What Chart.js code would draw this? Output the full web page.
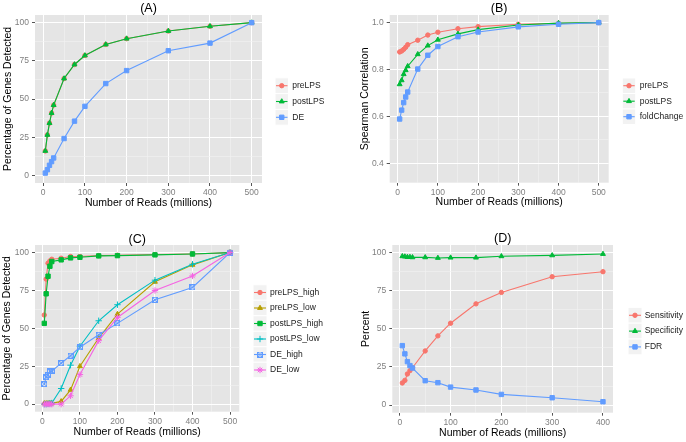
<!DOCTYPE html>
<html><head>
<meta charset="utf-8">
<script src="https://cdn.jsdelivr.net/npm/chart.js@4.4.0/dist/chart.umd.min.js"></script>
<style>
  html, body { margin: 0; padding: 0; background: #fff; }
  #wrap { position: relative; width: 686px; height: 442px; }
  canvas { position: absolute; }
</style>
</head>
<body>
<div id="wrap">
  <canvas id="cA" width="343" height="221" style="left:0;top:0"></canvas>
  <canvas id="cB" width="343" height="221" style="left:343px;top:0"></canvas>
  <canvas id="cC" width="343" height="221" style="left:0;top:221px"></canvas>
  <canvas id="cD" width="343" height="221" style="left:343px;top:221px"></canvas>
</div>
<script>
// x values (millions of reads)
var reads  = [5, 10, 15, 20, 25, 50, 75, 100, 150, 200, 300, 400, 500];
var readsD = [5, 10, 15, 20, 25, 50, 75, 100, 150, 200, 300, 400];

// (A) percentage of genes detected
var aPre  = [16, 26.5, 34.2, 40.8, 46, 63.4, 72.6, 78.5, 85.7, 89.5, 94.5, 97.6, 100];
var aPost = [16, 26.5, 34.2, 40.8, 46, 63.4, 72.6, 78.5, 85.7, 89.5, 94.5, 97.6, 100];
var aDE   = [1.5, 3.7, 6.6, 9, 11.4, 24.1, 35.5, 45.2, 60.1, 68.6, 81.6, 86.6, 100];

// (B) spearman correlation
var bPre  = [0.875, 0.879, 0.886, 0.895, 0.906, 0.925, 0.947, 0.959, 0.974, 0.983, 0.993, 0.997, 1.0];
var bPost = [0.737, 0.754, 0.780, 0.797, 0.814, 0.865, 0.902, 0.927, 0.952, 0.970, 0.990, 0.998, 1.0];
var bFold = [0.589, 0.627, 0.659, 0.683, 0.704, 0.802, 0.861, 0.898, 0.940, 0.960, 0.982, 0.993, 1.0];

// (C) high / low expression
var cPreHigh  = [58.8, 82.5, 93, 94.5, 95.6, 96.3, 97.4, 97.4, 98, 98.2, 98.7, 99.1, 100];
var cPreLow   = [0.5, 0.5, 0.5, 0.5, 0.5, 1.8, 9.4, 25, 43.6, 59.4, 80.7, 91.9, 100];
var cPostHigh = [53.3, 72.8, 84.4, 91, 94.1, 95.2, 96.5, 96.9, 97.8, 98, 98.5, 99.1, 100];
var cPostLow  = [0, 0, 0.2, 0.5, 0.7, 10.3, 25.7, 38.2, 55, 65.6, 81.8, 92.3, 100];
var cDEHigh   = [13.2, 17.8, 19.5, 21.7, 21.7, 27, 32, 37.5, 45.8, 53.3, 68.9, 77, 100];
var cDELow    = [0, 0, 0, 0, 0, 0, 5.5, 19.5, 41.9, 57.2, 75, 84.6, 100];

// (D) sensitivity / specificity / FDR
var dSens = [14.5, 16.2, 20.4, 22.6, 24.5, 35.5, 45.4, 53.7, 66.4, 73.9, 84.2, 87.5];
var dSpec = [97.6, 97.4, 97.1, 97.1, 96.9, 96.9, 96.5, 96.7, 96.7, 97.6, 98.2, 99.1];
var dFDR  = [39, 33.6, 28.5, 25.9, 24.3, 16, 14.7, 11.8, 9.9, 7, 4.8, 2.2];

var pctTicks = [0, 25, 50, 75, 100], pctMinor = [12.5, 37.5, 62.5, 87.5];
var corTicks = [0.4, 0.6, 0.8, 1.0], corMinor = [0.5, 0.7, 0.9];
var x500Ticks = [0, 100, 200, 300, 400, 500], x500Minor = [50, 150, 250, 350, 450];
var x400Ticks = [0, 100, 200, 300, 400], x400Minor = [50, 150, 250, 350];

var red = '#F8766D', green = '#00BA38', blue = '#619CFF';
var olive = '#B79F00', cyan = '#00BFC4', pink = '#F564E3';

Chart.defaults.font.family = '"Liberation Sans", Arial, sans-serif';

function boxCross(col) {
  var c = document.createElement('canvas');
  c.width = 6; c.height = 6;
  var g = c.getContext('2d');
  g.strokeStyle = col; g.lineWidth = 1;
  g.strokeRect(0.5, 0.5, 5, 5);
  g.beginPath();
  g.moveTo(0.5, 0.5); g.lineTo(5.5, 5.5);
  g.moveTo(5.5, 0.5); g.lineTo(0.5, 5.5);
  g.stroke();
  return c;
}

var radii = { circle: 2.2, triangle: 2.8, rect: 3.1, cross: 3.2, star: 3.2 };

function series(label, xs, ys, col, shape, i) {
  var r = typeof shape === 'string' ? radii[shape] : 3;
  return {
    label: label,
    data: xs.map(function (x, k) { return { x: x, y: ys[k] }; }),
    borderColor: col, backgroundColor: col,
    borderWidth: 1.1, pointStyle: shape, pointRadius: r,
    pointBorderWidth: 1, pointHoverRadius: r, order: -i
  };
}

function isIn(list, v) {
  return list.some(function (m) { return Math.abs(m - v) < 1e-6; });
}

function makeChart(id, o) {
  var bgPlugin = {
    id: 'ggBg',
    beforeDraw: function (chart) {
      var a = chart.chartArea, ctx = chart.ctx;
      ctx.save();
      ctx.fillStyle = '#E5E5E5';
      ctx.fillRect(a.left, a.top, a.right - a.left, a.bottom - a.top);
      ctx.restore();
    },
    afterDraw: function (chart) {
      var a = chart.chartArea, ctx = chart.ctx;
      ctx.save();
      // panel title
      ctx.fillStyle = '#000';
      ctx.font = '12.5px "Liberation Sans", Arial, sans-serif';
      ctx.textAlign = 'center'; ctx.textBaseline = 'middle';
      ctx.fillText(o.title, (a.left + a.right) / 2, o.titleY);
      // legend, ggplot style
      var L = o.legend;
      chart.data.datasets.forEach(function (ds, i) {
        var cy = L.y0 + i * L.dy;
        ctx.fillStyle = '#F2F2F2';
        ctx.fillRect(L.x, cy - L.dy / 2, L.w, L.dy);
        ctx.strokeStyle = '#fff'; ctx.lineWidth = 1;
        ctx.strokeRect(L.x, cy - L.dy / 2, L.w, L.dy);
        ctx.strokeStyle = ds.borderColor; ctx.lineWidth = 1.1;
        ctx.beginPath(); ctx.moveTo(L.x + 1, cy); ctx.lineTo(L.x + L.w - 1, cy); ctx.stroke();
        ctx.fillStyle = ds.borderColor; ctx.strokeStyle = ds.borderColor; ctx.lineWidth = 1;
        Chart.helpers.drawPoint(ctx, { pointStyle: ds.pointStyle, radius: ds.pointRadius, rotation: 0, borderWidth: 1 }, L.x + L.w / 2, cy);
        ctx.fillStyle = '#1A1A1A';
        ctx.font = '8.5px "Liberation Sans", Arial, sans-serif';
        ctx.textAlign = 'left'; ctx.textBaseline = 'middle';
        ctx.fillText(ds.label, L.tx, cy);
      });
      ctx.restore();
    }
  };

  function gridOpts(major) {
    return {
      color: function (c) { return isIn(major, c.tick.value) ? '#FFFFFF' : '#F2F2F2'; },
      lineWidth: function (c) { return isIn(major, c.tick.value) ? 1 : 0.6; },
      tickColor: function (c) { return isIn(major, c.tick.value) ? '#555555' : 'rgba(0,0,0,0)'; },
      tickLength: 3, drawTicks: true
    };
  }

  return new Chart(document.getElementById(id), {
    type: 'line',
    data: { datasets: o.datasets },
    plugins: [bgPlugin],
    options: {
      responsive: false, animation: false, devicePixelRatio: 1,
      layout: { padding: { left: 0, top: o.padTop, right: o.padRight, bottom: 0 } },
      plugins: { legend: { display: false }, tooltip: { enabled: false }, title: { display: false } },
      scales: {
        x: {
          type: 'linear', min: o.xMin, max: o.xMax,
          afterBuildTicks: function (s) { s.ticks = o.xTicks.concat(o.xMinor).sort(function (p, q) { return p - q; }).map(function (v) { return { value: v }; }); },
          afterFit: function (s) { s.height = o.xH; },
          grid: gridOpts(o.xTicks),
          border: { display: false },
          ticks: {
            autoSkip: false, maxRotation: 0, padding: 2, color: '#7F7F7F', font: { size: 8.5 },
            callback: function (v) { return isIn(o.xTicks, v) ? String(v) : ''; }
          },
          title: { display: true, text: 'Number of Reads (millions)', color: '#000', font: { size: 10.5 }, padding: { top: 0, bottom: o.xTitlePad } }
        },
        y: {
          type: 'linear', min: o.yMin, max: o.yMax,
          afterBuildTicks: function (s) { s.ticks = o.yTicks.concat(o.yMinor).sort(function (p, q) { return p - q; }).map(function (v) { return { value: v }; }); },
          afterFit: function (s) { s.width = o.yW; },
          grid: gridOpts(o.yTicks),
          border: { display: false },
          ticks: {
            autoSkip: false, padding: 3, color: '#7F7F7F', font: { size: 8.5 },
            callback: function (v) { return isIn(o.yTicks, v) ? o.fmt(v) : ''; }
          },
          title: { display: true, text: o.yTitle, color: '#000', font: { size: 10.5 }, padding: { top: o.yTitlePad, bottom: 0 } }
        }
      }
    }
  });
}

var intFmt = function (v) { return String(Math.round(v)); };

makeChart('cA', {
  title: '(A)', titleY: 9, yTitle: 'Percentage of Genes Detected', fmt: intFmt,
  datasets: [
    series('preLPS', reads, aPre, red, 'circle', 0),
    series('postLPS', reads, aPost, green, 'triangle', 1),
    series('DE', reads, aDE, blue, 'rect', 2)
  ],
  xMin: -19.75, xMax: 524.75, xTicks: x500Ticks, xMinor: x500Minor,
  yMin: -5, yMax: 105, yTicks: pctTicks, yMinor: pctMinor,
  padTop: 15, padRight: 81, yW: 35, xH: 38, yTitlePad: 1.4, xTitlePad: 11.7,
  legend: { x: 275, w: 13.5, y0: 85.7, dy: 15.8, tx: 292.3 }
});

makeChart('cB', {
  title: '(B)', titleY: 9, yTitle: 'Spearman Correlation', fmt: function (v) { return v.toFixed(1); },
  datasets: [
    series('preLPS', reads, bPre, red, 'circle', 0),
    series('postLPS', reads, bPost, green, 'triangle', 1),
    series('foldChange', reads, bFold, blue, 'rect', 2)
  ],
  xMin: -19.75, xMax: 524.75, xTicks: x500Ticks, xMinor: x500Minor,
  yMin: 0.3175, yMax: 1.0325, yTicks: corTicks, yMinor: corMinor,
  padTop: 15, padRight: 77.3, yW: 46.7, xH: 38.3, yTitlePad: 15.7, xTitlePad: 12.2,
  legend: { x: 279.3, w: 13.4, y0: 85.7, dy: 15.5, tx: 296.7 }
});

makeChart('cC', {
  title: '(C)', titleY: 18.3, yTitle: 'Percentage of Genes Detected', fmt: intFmt,
  datasets: [
    series('preLPS_high', reads, cPreHigh, red, 'circle', 0),
    series('preLPS_low', reads, cPreLow, olive, 'triangle', 1),
    series('postLPS_high', reads, cPostHigh, green, 'rect', 2),
    series('postLPS_low', reads, cPostLow, cyan, 'cross', 3),
    series('DE_high', reads, cDEHigh, blue, boxCross(blue), 4),
    series('DE_low', reads, cDELow, pink, 'star', 5)
  ],
  xMin: -19.75, xMax: 524.75, xTicks: x500Ticks, xMinor: x500Minor,
  yMin: -5, yMax: 105, yTicks: pctTicks, yMinor: pctMinor,
  padTop: 24, padRight: 103.7, yW: 35, xH: 30.3, yTitlePad: 1.2, xTitlePad: 3.7,
  legend: { x: 253, w: 14, y0: 71.5, dy: 15.5, tx: 270 }
});

makeChart('cD', {
  title: '(D)', titleY: 17.7, yTitle: 'Percent', fmt: intFmt,
  datasets: [
    series('Sensitivity', readsD, dSens, red, 'circle', 0),
    series('Specificity', readsD, dSpec, green, 'triangle', 1),
    series('FDR', readsD, dFDR, blue, 'rect', 2)
  ],
  xMin: -14.75, xMax: 419.75, xTicks: x400Ticks, xMinor: x400Minor,
  yMin: -5, yMax: 105, yTicks: pctTicks, yMinor: pctMinor,
  padTop: 24, padRight: 73, yW: 49.3, xH: 29.3, yTitlePad: 16.4, xTitlePad: 3,
  legend: { x: 285, w: 14, y0: 94.3, dy: 15.8, tx: 301.7 }
});
</script>
</body></html>
